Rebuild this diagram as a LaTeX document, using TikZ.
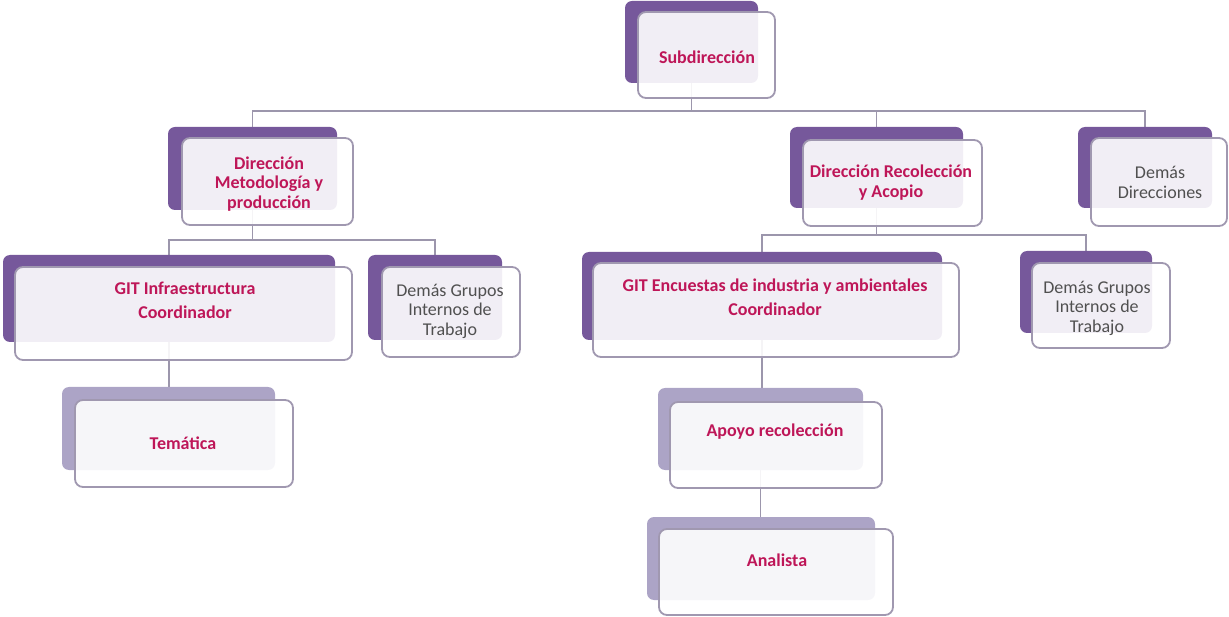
\documentclass[tikz,border=0pt]{standalone}
\usepackage{fontspec}
\setmainfont{Carlito}
\definecolor{purD}{RGB}{118,88,155}
\definecolor{purL}{RGB}{172,164,198}
\definecolor{borderC}{RGB}{160,152,176}
\definecolor{lineC}{RGB}{156,150,172}
\definecolor{txtR}{RGB}{190,22,88}
\definecolor{txtG}{RGB}{80,80,80}
\pgfdeclarelayer{bg}
\pgfsetlayers{bg,main}
\begin{document}
\begin{tikzpicture}[x=1pt,y=-1pt,
  conn/.style={draw=lineC,line width=1.8pt},
  backd/.style={fill=purD,rounded corners=7pt,inner sep=0pt,draw=none},
  backl/.style={fill=purL,rounded corners=7pt,inner sep=0pt,draw=none},
  front/.style={draw=borderC,line width=1.8pt,fill=white,fill opacity=0.9,rounded corners=8pt,inner sep=0pt},
  lbl/.style={text=txtR,font=\bfseries\fontsize{18}{19.5}\selectfont,align=center,inner sep=0pt},
  glbl/.style={text=txtG,font=\fontsize{18}{19.5}\selectfont,align=center,inner sep=0pt}]
\useasboundingbox (0,0) rectangle (1229,617);
% Subdireccion
\node[backd,minimum width=133pt,minimum height=82pt] (subB) at (691.5,42) {};
\node[front,minimum width=137pt,minimum height=86pt] (subF) at (706.5,55) {};
\node[lbl] (subT) at (707,57) {Subdirección};
% Direccion Metodologia
\node[backd,minimum width=169pt,minimum height=83pt] (dmB) at (252.5,168.5) {};
\node[front,minimum width=171pt,minimum height=87pt] (dmF) at (267.5,181.5) {};
\node[lbl] (dmT) at (269,184) {Dirección\\Metodología y\\producción};
% Direccion Recoleccion
\node[backd,minimum width=173pt,minimum height=81pt] (drB) at (876.5,167.5) {};
\node[front,minimum width=179pt,minimum height=86pt] (drF) at (892.5,183) {};
\node[lbl] (drT) at (891,182.5) {Dirección Recolección\\y Acopio};
% Demas Direcciones
\node[backd,minimum width=134pt,minimum height=81pt] (ddB) at (1145,167.5) {};
\node[front,minimum width=136pt,minimum height=88pt] (ddF) at (1159,182) {};
\node[glbl] (ddT) at (1160,182.5) {Demás\\Direcciones};
% GIT Infraestructura
\node[backd,minimum width=332pt,minimum height=87pt] (giB) at (169,298.5) {};
\node[front,minimum width=337pt,minimum height=93pt] (giF) at (183.5,313.5) {};
\node[lbl] (giT) at (185,300.5) {GIT Infraestructura\\[5pt]Coordinador};
% Demas Grupos left
\node[backd,minimum width=134pt,minimum height=85pt] (dglB) at (435,297.5) {};
\node[front,minimum width=138pt,minimum height=90pt] (dglF) at (451,312) {};
\node[glbl] (dglT) at (450,311) {Demás Grupos\\Internos de\\Trabajo};
% GIT Encuestas
\node[backd,minimum width=360pt,minimum height=88pt] (geB) at (762,296) {};
\node[front,minimum width=366pt,minimum height=94pt] (geF) at (776,310) {};
\node[lbl] (geT) at (775,297) {GIT Encuestas de industria y ambientales\\[4.5pt]Coordinador};
% Demas Grupos right
\node[backd,minimum width=132pt,minimum height=82pt] (dgrB) at (1086,292) {};
\node[front,minimum width=138pt,minimum height=85pt] (dgrF) at (1101,305.5) {};
\node[glbl] (dgrT) at (1097,308) {Demás Grupos\\Internos de\\Trabajo};
% Tematica
\node[backl,minimum width=213pt,minimum height=83pt] (temB) at (168.5,428.5) {};
\node[front,minimum width=218pt,minimum height=87pt] (temF) at (184,443.5) {};
\node[lbl] (temT) at (183,443) {Temática};
% Apoyo recoleccion
\node[backl,minimum width=205pt,minimum height=82pt] (apB) at (760.5,429) {};
\node[front,minimum width=212pt,minimum height=86pt] (apF) at (776,445) {};
\node[lbl] (apT) at (775,432) {Apoyo recolección};
% Analista
\node[backl,minimum width=228pt,minimum height=83pt] (anB) at (761,558.5) {};
\node[front,minimum width=234pt,minimum height=86pt] (anF) at (776,572) {};
\node[lbl] (anT) at (777,560) {Analista};
% connectors
\coordinate (bus1) at (0,111);
\coordinate (bus2L) at (0,240);
\coordinate (bus2R) at (0,235);
\begin{pgfonlayer}{bg}
\draw[conn] (subB.center) -- (subB.center |- bus1);
\draw[conn] (dmB.north) |- (ddB.north |- bus1) -- (ddB.north);
\draw[conn] (drB.north) -- (drB.north |- bus1);
\draw[conn] (dmB.center) -- (dmB.center |- bus2L);
\draw[conn] (giB.north) |- (dglB.north |- bus2L) -- (dglB.north);
\draw[conn] (drB.center) -- (drB.center |- bus2R);
\draw[conn] (geB.north) |- (dgrB.north |- bus2R) -- (dgrB.north);
\draw[conn] (giB.center) -- (giB.center |- temB.north);
\draw[conn] (geB.center) -- (geB.center |- apB.north);
\draw[conn] (apB.center) -- (apB.center |- anB.north);
\end{pgfonlayer}
\end{tikzpicture}
\end{document}
